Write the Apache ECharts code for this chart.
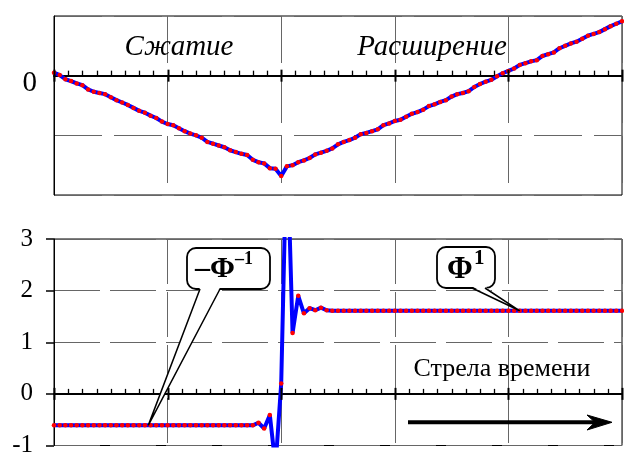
<!DOCTYPE html>
<html>
<head>
<meta charset="utf-8">
<script src="https://cdn.jsdelivr.net/npm/echarts@6/dist/echarts.min.js"></script>
<style>
html,body{margin:0;padding:0;background:#fff;}
#main{width:624px;height:458px;}
</style>
</head>
<body>
<div id="main"></div>
<script>
// upper panel: compression -> expansion
let scaleVals = [
    0.05, 0.01, -0.06, -0.09, -0.13, -0.16, -0.23, -0.27, -0.29, -0.31,
    -0.36, -0.41, -0.45, -0.49, -0.54, -0.59, -0.62, -0.67, -0.71, -0.77,
    -0.81, -0.83, -0.88, -0.93, -0.97, -1.00, -1.04, -1.11, -1.14, -1.17,
    -1.20, -1.25, -1.28, -1.31, -1.33, -1.41, -1.45, -1.47, -1.55, -1.56,
    -1.68, -1.52, -1.50, -1.45, -1.42, -1.38, -1.32, -1.29, -1.26, -1.22,
    -1.15, -1.11, -1.08, -1.04, -0.98, -0.96, -0.93, -0.90, -0.83, -0.80,
    -0.76, -0.74, -0.69, -0.64, -0.61, -0.57, -0.51, -0.48, -0.44, -0.41,
    -0.35, -0.31, -0.29, -0.26, -0.19, -0.14, -0.10, -0.07, -0.01, 0.04,
    0.08, 0.12, 0.18, 0.21, 0.24, 0.26, 0.33, 0.36, 0.39, 0.46,
    0.50, 0.54, 0.57, 0.62, 0.67, 0.70, 0.73, 0.78, 0.83, 0.87,
    0.91
];
// lower panel: ratio, -1/phi before, phi after
let ratioVals = [
    -0.61, -0.61, -0.61, -0.61, -0.61, -0.61, -0.61, -0.61, -0.61, -0.61,
    -0.61, -0.61, -0.61, -0.61, -0.61, -0.61, -0.61, -0.61, -0.61, -0.61,
    -0.61, -0.61, -0.61, -0.61, -0.61, -0.61, -0.61, -0.61, -0.61, -0.61,
    -0.61, -0.61, -0.61, -0.61, -0.61, -0.61, -0.56, -0.67, -0.41, -1.40,
    0.20, 5.00, 1.18, 1.90, 1.56, 1.66, 1.62, 1.67, 1.62, 1.61,
    1.61, 1.61, 1.61, 1.61, 1.61, 1.61, 1.61, 1.61, 1.61, 1.61,
    1.61, 1.61, 1.61, 1.61, 1.61, 1.61, 1.61, 1.61, 1.61, 1.61,
    1.61, 1.61, 1.61, 1.61, 1.61, 1.61, 1.61, 1.61, 1.61, 1.61,
    1.61, 1.61, 1.61, 1.61, 1.61, 1.61, 1.61, 1.61, 1.61, 1.61,
    1.61, 1.61, 1.61, 1.61, 1.61, 1.61, 1.61, 1.61, 1.61, 1.61,
    1.61
];
// tick marks on the zero line (major every 20)
let zeroTicks = [
    0, 2.5, 5, 7.5, 10, 12.5, 15, 17.5, 20, 22.5, 25, 27.5, 30, 32.5,
    35, 37.5, 40, 42.5, 45, 47.5, 50, 52.5, 55, 57.5, 60, 62.5, 65, 67.5,
    70, 72.5, 75, 77.5, 80, 82.5, 85, 87.5, 90, 92.5, 95, 97.5, 100
];
let topYLabels = ['0'];
let botYLabels = ['-1', '0', '1', '2', '3'];
let phaseTexts = ['Сжатие', 'Расширение'];
let arrowText = 'Стрела времени';
let calloutIdx = [16.6, 82];

let serif = '"Liberation Serif", "Times New Roman", serif';

window.addEventListener('load', function () {
    let chart = echarts.init(document.getElementById('main'));

    function xMain(gi, dash) {
        return {
            type: 'value', gridIndex: gi, min: 0, max: 100, interval: 20, position: 'bottom',
            axisLine: {show: true, onZero: true, lineStyle: {color: '#000', width: 2}},
            axisTick: {show: false},
            axisLabel: {show: false},
            splitLine: {show: true, lineStyle: {color: '#666', width: 1, type: dash}}
        };
    }

    let option = {
        animation: false,
        backgroundColor: '#fff',
        grid: [
            {left: 54, width: 568, top: 16, height: 179, show: true, borderColor: '#000', borderWidth: 1},
            {left: 54, width: 568, top: 239, height: 211, show: true, borderColor: '#000', borderWidth: 1}
        ],
        xAxis: [xMain(0, [47, 13]), xMain(1, [45, 8])],
        yAxis: [
            {
                type: 'value', gridIndex: 0, min: -2, max: 1, interval: 1,
                axisLine: {show: true, onZero: false, lineStyle: {color: '#000', width: 1}},
                axisTick: {show: false},
                axisLabel: {
                    formatter: function (v) {
                        return topYLabels.indexOf(String(v)) >= 0 ? '{z|' + v + '}' : '';
                    },
                    rich: {z: {fontFamily: serif, fontSize: 29, color: '#000', padding: [16, 0, 0, 0]}},
                    margin: 17
                },
                splitLine: {show: true, lineStyle: {color: '#666', width: 1, type: [48, 12]}}
            },
            {
                type: 'value', gridIndex: 1, min: -1, max: 3, interval: 1,
                axisLine: {show: true, onZero: false, lineStyle: {color: '#000', width: 1}},
                axisTick: {show: true, inside: false, length: 8, lineStyle: {color: '#000', width: 1.5}},
                axisLabel: {
                    formatter: function (v) { return botYLabels.indexOf(String(v)) >= 0 ? String(v) : ''; },
                    fontFamily: serif, fontSize: 25, color: '#000', margin: 21
                },
                splitLine: {show: true, lineStyle: {color: '#666', width: 1, type: [46, 10]}}
            }
        ],
        series: [
            {
                type: 'line', xAxisIndex: 0, yAxisIndex: 0,
                data: scaleVals.map(function (v, i) { return [i, v]; }),
                symbol: 'circle', symbolSize: 4.5, showAllSymbol: true,
                lineStyle: {color: '#0000ff', width: 4},
                itemStyle: {color: '#ff0000', borderWidth: 0},
                clip: true, z: 5
            },
            {
                type: 'line', xAxisIndex: 1, yAxisIndex: 1,
                data: ratioVals.map(function (v, i) { return [i, v]; }),
                symbol: 'circle', symbolSize: 4.5, showAllSymbol: true,
                lineStyle: {color: '#0000ff', width: 4},
                itemStyle: {color: '#ff0000', borderWidth: 0},
                clip: true, z: 5
            }
        ]
    };
    chart.setOption(option);

    // callout tips point at the data line
    let tipL = chart.convertToPixel({gridIndex: 1}, [calloutIdx[0], ratioVals[Math.round(calloutIdx[0])]]);
    let tipR = chart.convertToPixel({gridIndex: 1}, [calloutIdx[1], ratioVals[calloutIdx[1]]]);

    function callout(bx, by, bw, bh, r1, r2, tip) {
        let bottom = by + bh;
        return [
            {type: 'rect', z: 100, shape: {x: bx, y: by, width: bw, height: bh, r: 9},
                style: {fill: '#fff', stroke: '#000', lineWidth: 1.8}},
            {type: 'polygon', z: 101, shape: {points: [[r1, bottom - 1.5], tip, [r2, bottom - 1.5]]},
                style: {fill: '#fff', stroke: null}},
            {type: 'polyline', z: 102, shape: {points: [[r1, bottom], tip, [r2, bottom]]},
                style: {fill: null, stroke: '#000', lineWidth: 1.5}}
        ];
    }
    function txt(s, x, y, font, align) {
        return {type: 'text', z: 110, x: x, y: y,
            style: {text: s, font: font, fill: '#000', align: align || 'left', verticalAlign: 'middle'}};
    }

    let g = [];
    // comb of ticks on each zero line, placed through the panel's own scales
    [0, 1].forEach(function (gi) {
        zeroTicks.forEach(function (t) {
            let p = chart.convertToPixel({gridIndex: gi}, [t, 0]);
            let major = t % 20 === 0;
            let x = Math.round(p[0]) + 0.5;
            g.push({type: 'line', z: 50,
                shape: {x1: x, y1: p[1] - (major ? 6 : 5), x2: x, y2: p[1] + (major ? 6 : 0)},
                style: {stroke: '#000', lineWidth: major ? 2 : 1.3}});
        });
    });
    g = g.concat(callout(187, 248, 83, 41, 200, 220, tipL));
    g = g.concat(callout(437, 247, 58, 41, 472, 485, tipR));
    g.push(txt('–Φ', 195, 269, 'bold 30px ' + serif));
    g.push(txt('–1', 235, 259, 'bold 18px ' + serif));
    g.push(txt('Φ', 447, 270, 'bold 31px ' + serif));
    g.push(txt('1', 474, 259, 'bold 21px ' + serif));
    g.push(txt(phaseTexts[0], 179, 47, 'italic 29px ' + serif, 'center'));
    g.push(txt(phaseTexts[1], 432, 47, 'italic 29px ' + serif, 'center'));
    g.push(txt(arrowText, 502, 369, '26px ' + serif, 'center'));
    g.push({type: 'line', z: 100, shape: {x1: 408, y1: 422.3, x2: 598, y2: 422.3},
        style: {stroke: '#000', lineWidth: 4}});
    g.push({type: 'polygon', z: 101, shape: {points: [[612, 422.3], [587, 415], [595, 422.3], [587, 430]]},
        style: {fill: '#000', stroke: '#000', lineWidth: 1}});

    chart.setOption({graphic: {elements: g}});
}, false);
</script>
</body>
</html>
